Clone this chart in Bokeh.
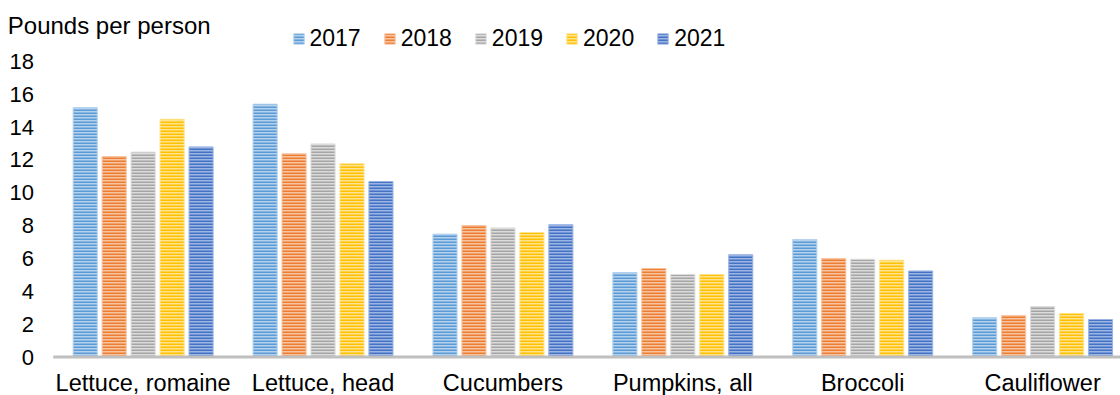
from bokeh.plotting import figure
from bokeh.models import Range1d, Legend, LegendItem, ColumnDataSource
from bokeh.core.properties import value
from bokeh.embed import file_html
from bokeh.resources import INLINE

categories = ["Lettuce, romaine", "Lettuce, head", "Cucumbers", "Pumpkins, all", "Broccoli", "Cauliflower"]
years = ["2017", "2018", "2019", "2020", "2021"]
v2017 = [15.17, 15.39, 7.48, 5.14, 7.15, 2.39]
v2018 = [12.20, 12.37, 8.00, 5.39, 6.00, 2.53]
v2019 = [12.47, 12.97, 7.86, 5.02, 5.95, 3.07]
v2020 = [14.47, 11.76, 7.58, 5.02, 5.89, 2.65]
v2021 = [12.79, 10.68, 8.05, 6.22, 5.24, 2.28]
series = [v2017, v2018, v2019, v2020, v2021]
y_ticks = [0, 2, 4, 6, 8, 10, 12, 14, 16, 18]
y_tick_labels = [str(t) for t in y_ticks]
y_title = "Pounds per person"

main_colors = ["#5b9bd5", "#ed7d31", "#a5a5a5", "#ffc000", "#4472c4"]
light_colors = ["#b4d2ee", "#f7c4a2", "#dcdcdc", "#ffe38f", "#9db5e3"]
offsets = [-0.322, -0.161, 0.0, 0.161, 0.322]
bar_w = 0.134
FONT = "Liberation Sans"

# the plotting frame covers the whole canvas; ticks/labels are drawn through the scales
p = figure(width=1120, height=395, output_backend="svg", toolbar_location=None,
           x_range=Range1d(-0.2929, 5.933), y_range=Range1d(-2.343, 21.70),
           min_border_left=0, min_border_right=0, min_border_top=0, min_border_bottom=0)
p.outline_line_color = None
p.xgrid.visible = False
p.ygrid.visible = False
p.xaxis.visible = False
p.yaxis.visible = False

centers = [i + 0.5 for i in range(len(categories))]
items = []
for k, yr in enumerate(years):
    src = ColumnDataSource(dict(x=[c + offsets[k] for c in centers], top=series[k]))
    r = p.vbar(x="x", top="top", bottom=0, width=bar_w, source=src,
               fill_color=light_colors[k], line_color=light_colors[k], line_width=1,
               hatch_pattern="horizontal_line", hatch_color=main_colors[k],
               hatch_scale=3, hatch_weight=2)
    items.append(LegendItem(label=yr, renderers=[r]))

# category axis line
p.segment(x0=[0], y0=[0], x1=[len(categories)], y1=[0], line_color="#bfbfbf", line_width=3)

# category labels
p.text(x=centers, y=[-1.61] * len(categories), text=categories,
       text_font=value(FONT), text_font_size="23.5px", text_color="#000000",
       text_align="center", text_baseline="middle")

# value axis labels
p.text(x=[-0.107] * len(y_ticks), y=y_ticks, text=y_tick_labels,
       text_font=value(FONT), text_font_size="22px", text_color="#000000",
       text_align="right", text_baseline="middle")

# unit title, top-left
p.text(x=[-0.2524], y=[20.18], text=[y_title],
       text_font=value(FONT), text_font_size="24px", text_color="#000000",
       text_align="left", text_baseline="middle")

legend = Legend(items=items, orientation="horizontal", location=(291.5, 343.5),
                glyph_width=13, glyph_height=13, label_standoff=5, spacing=22,
                padding=0, margin=0, border_line_color=None, background_fill_alpha=0,
                label_text_font=FONT, label_text_font_size="23px", label_text_color="#000000")
p.add_layout(legend, "center")

open("out.html", "w").write(file_html(p, INLINE))
